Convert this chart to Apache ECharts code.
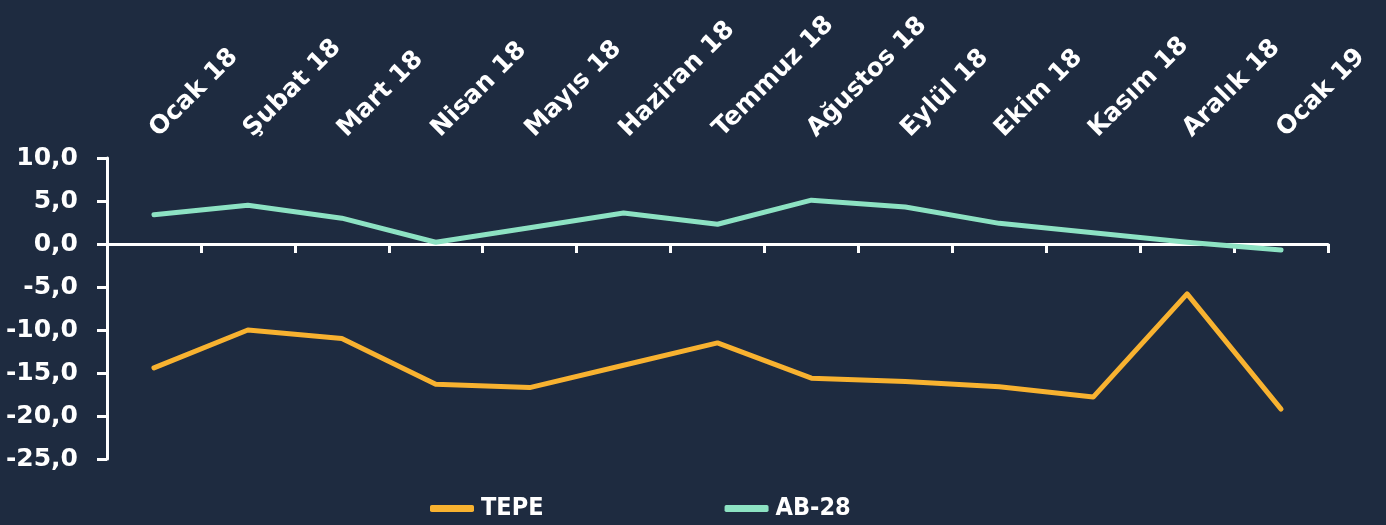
<!DOCTYPE html>
<html>
<head>
<meta charset="utf-8">
<script src="https://cdn.jsdelivr.net/npm/echarts@6/dist/echarts.min.js"></script>
<style>
html,body{margin:0;padding:0;background:#1e2b40;}
#c{width:1386px;height:525px;}
</style>
</head>
<body>
<div id="c"></div>
<script>
const categories = ['Ocak 18','Şubat 18','Mart 18','Nisan 18','Mayıs 18','Haziran 18','Temmuz 18','Ağustos 18','Eylül 18','Ekim 18','Kasım 18','Aralık 18','Ocak 19'];
const tepe = [-14.4,-10.0,-11.0,-16.3,-16.7,-14.1,-11.5,-15.6,-16.0,-16.6,-17.8,-5.8,-19.2];
const ab28 = [3.4,4.5,3.0,0.2,1.9,3.6,2.3,5.1,4.3,2.4,1.3,0.2,-0.7];
const yTicks = {min:-25, max:10, interval:5};

const chart = echarts.init(document.getElementById('c'));
const font = "'DejaVu Sans', Verdana, sans-serif";
chart.setOption({
  backgroundColor:'#1e2b40',
  animation:false,
  grid:{left:107,right:58,top:158,bottom:66,containLabel:false},
  legend:{
    data:['TEPE','AB-28'],
    left:430, top:496, padding:0,
    icon:'roundRect', itemWidth:44, itemHeight:7, itemGap:181,
    textStyle:{color:'#ffffff',fontSize:25,fontWeight:'bold',fontFamily:"'Liberation Sans Narrow','DejaVu Sans Condensed',sans-serif",padding:[0,0,0,2]}
  },
  xAxis:[
    {type:'category',data:categories,position:'bottom',boundaryGap:true,
     axisLine:{onZero:true,lineStyle:{color:'#ffffff',width:3}},
     axisTick:{show:true,length:9,lineStyle:{color:'#ffffff',width:3},alignWithLabel:false},
     axisLabel:{show:false},splitLine:{show:false}},
    {type:'category',data:categories,position:'top',boundaryGap:true,
     axisLine:{show:false,onZero:false},axisTick:{show:false},splitLine:{show:false},
     axisLabel:{show:true,interval:0,rotate:-45,margin:25,color:'#ffffff',fontSize:25,fontWeight:'bold',fontFamily:font}}
  ],
  yAxis:{type:'value',min:yTicks.min,max:yTicks.max,interval:yTicks.interval,
    axisLine:{show:true,lineStyle:{color:'#ffffff',width:3}},
    axisTick:{show:true,length:10,lineStyle:{color:'#ffffff',width:3}},
    splitLine:{show:false},
    axisLabel:{margin:29,color:'#ffffff',fontSize:25,fontWeight:'bold',fontFamily:font,
      formatter:v=>v.toFixed(1).replace('.',',')}},
  series:[
    {name:'TEPE',type:'line',data:tepe,showSymbol:false,symbol:'none',
     itemStyle:{color:'#f8b230'},lineStyle:{color:'#f8b230',width:5,cap:'round',join:'round'}},
    {name:'AB-28',type:'line',data:ab28,showSymbol:false,symbol:'none',
     itemStyle:{color:'#8de2c3'},lineStyle:{color:'#8de2c3',width:5,cap:'round',join:'round'}}
  ]
});
</script>
</body>
</html>
